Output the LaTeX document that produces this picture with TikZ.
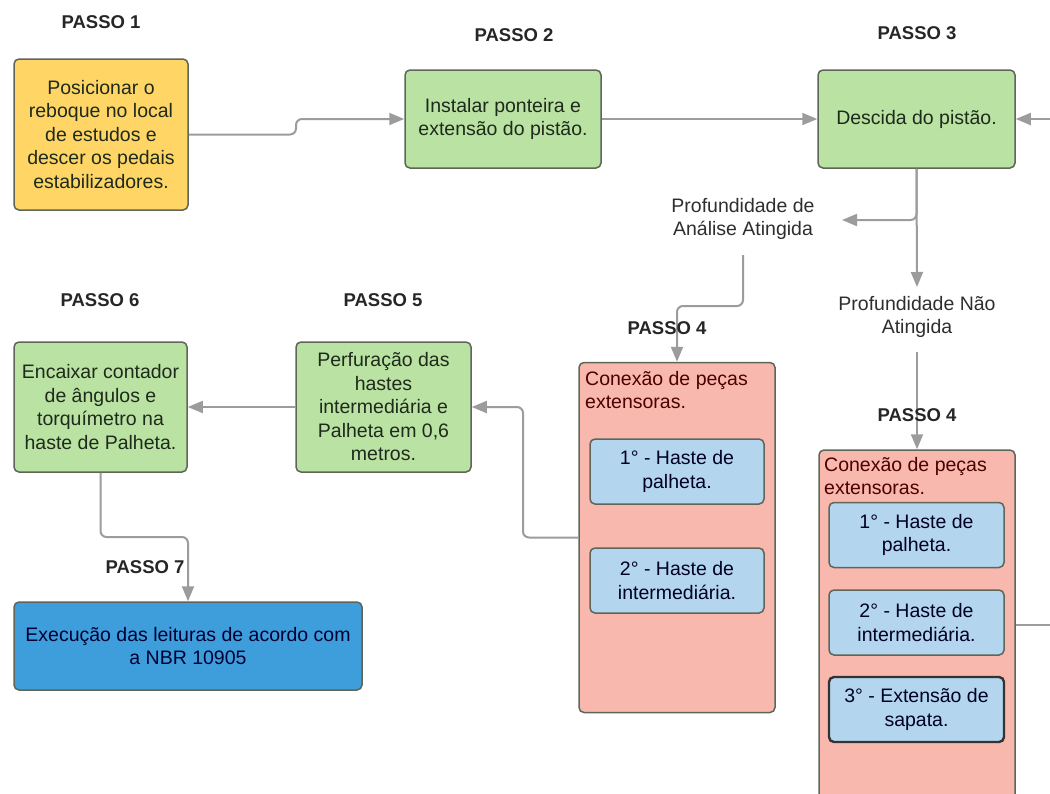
\documentclass[tikz,border=0pt]{standalone}
\usepackage{fontspec}
\setmainfont{Liberation Sans}
\usetikzlibrary{arrows.meta}

\definecolor{yellowfill}{HTML}{FFD666}
\definecolor{greenfill}{HTML}{BAE2A2}
\definecolor{pinkfill}{HTML}{F8B8AE}
\definecolor{partfill}{HTML}{B3D5EE}
\definecolor{finalfill}{HTML}{3D9EDB}
\definecolor{boxline}{HTML}{5E665A}
\definecolor{connline}{HTML}{9C9C9C}
\definecolor{textdark}{HTML}{1E2A1C}
\definecolor{labeltext}{HTML}{2E2E2E}

\newcommand\bodyfont{\fontsize{19.5}{23.5}\selectfont}
\newcommand\headfont{\fontsize{18.5}{22}\selectfont\bfseries}

\tikzset{
  box/.style={draw=boxline, line width=1.5pt, rounded corners=5pt, align=center,
    inner sep=0pt, font=\bodyfont, text=textdark},
  greenbox/.style={box, fill=greenfill},
  partbox/.style={box, fill=partfill, minimum width=175pt, minimum height=65pt, text=black!85!blue},
  groupbox/.style={box, fill=pinkfill, minimum width=196pt, minimum height=350pt},
  grouptext/.style={font=\bodyfont, text=black!70!red, anchor=base west, align=left, inner sep=0pt},
  head/.style={font=\headfont, text=black!85},
  cond/.style={font=\bodyfont, text=labeltext, align=center, inner sep=0pt},
  conn/.style={draw=connline, line width=2pt, rounded corners=6pt},
  arrowconn/.style={conn, -{Triangle[length=15pt,width=12pt]}},
}

\begin{document}
\begin{tikzpicture}[x=1pt,y=-1pt]
\clip (0,0) rectangle (1050,793);
\fill[white] (0,0) rectangle (1050,793);

% step headings
\node[head] (h1) at (101,22) {PASSO 1};
\node[head] (h2) at (514,35) {PASSO 2};
\node[head] (h3) at (917,33) {PASSO 3};
\node[head] (h5) at (383,300) {PASSO 5};
\node[head] (h6) at (100,300) {PASSO 6};

% main step boxes
\node[box, fill=yellowfill, minimum width=174pt, minimum height=151pt] (b1) at (101,134.5)
  {Posicionar o\\reboque no local\\de estudos e\\descer os pedais\\estabilizadores.};
\node[greenbox, minimum width=196pt, minimum height=98pt] (b2) at (503,119)
  {Instalar ponteira e\\extensão do pistão.};
\node[greenbox, minimum width=197pt, minimum height=98pt] (b3) at (916.5,119)
  {Descida do pistão.};
\node[greenbox, minimum width=175pt, minimum height=130pt] (b5) at (383.5,407)
  {Perfuração das\\hastes\\intermediária e\\Palheta em 0,6\\metros.};
\node[greenbox, minimum width=173pt, minimum height=130pt] (b6) at (100.5,407)
  {Encaixar contador\\de ângulos e\\torquímetro na\\haste de Palheta.};
\node[box, fill=finalfill, minimum width=348pt, minimum height=88pt, text=black!80!blue] (b7) at (188,646)
  {Execução das leituras de acordo com\\a NBR 10905};

% condition labels
\node[cond] (pa) at (743,219) {Profundidade de\\Análise Atingida};
\node[cond] (pn) at (917,317) {Profundidade Não\\Atingida};
\coordinate (paIn) at (842,220);
\coordinate (paOut) at (743,255);
\coordinate (pnIn) at (917,287);
\coordinate (pnOut) at (917,352);

% extension groups
\node[groupbox] (g1) at (677,537.5) {};
\node[groupbox] (g2) at (917,625) {};
\node[grouptext] (g1t) at (585,408.5) {Conexão de peças\\extensoras.};
\node[grouptext] (g2t) at (824,494.5) {Conexão de peças\\extensoras.};
\node[partbox, minimum width=174pt] (p1a) at (677,471.5) {1° - Haste de\\palheta.};
\node[partbox, minimum width=174pt] (p2a) at (677,580.5) {2° - Haste de\\intermediária.};
\node[partbox] (p1b) at (916.5,535) {1° - Haste de\\palheta.};
\node[partbox] (p2b) at (916.5,622.5) {2° - Haste de\\intermediária.};
\node[partbox, draw=black!80, line width=2.4pt] (p3b) at (916.5,709.5) {3° - Extensão de\\sapata.};

% connectors
\draw[arrowconn] (b1.east) -- (296,134.5) -- (296,119) -- (b2.west);
\draw[arrowconn] (b2.east) -- (b3.west);
\coordinate (rightIn) at (1056,119);
\draw[arrowconn] (rightIn) -- (b3.east);
\draw[arrowconn] (b3.south) -- (pnIn);
\draw[arrowconn] (b3.south) |- (paIn);
\draw[arrowconn] (paOut) -- (743,306) -- (677,306) -- (g1.north);
\draw[arrowconn] (pnOut) -- (g2.north);
\draw[arrowconn] (g1.west) -- (523,537.5) -- (523,407) -- (b5.east);
\draw[arrowconn] (b5.west) -- (b6.east);
\draw[arrowconn] (b6.south) -- (100.5,537) -- (188,537) -- (b7.north);
\coordinate (rightOut) at (1056,625);
\draw[conn] (g2.east) -- (rightOut);

% headings crossed by connectors
\node[head] (h4a) at (667,328) {PASSO 4};
\node[head] (h4b) at (917,415) {PASSO 4};
\node[head] (h7) at (145,567) {PASSO 7};
\end{tikzpicture}
\end{document}
